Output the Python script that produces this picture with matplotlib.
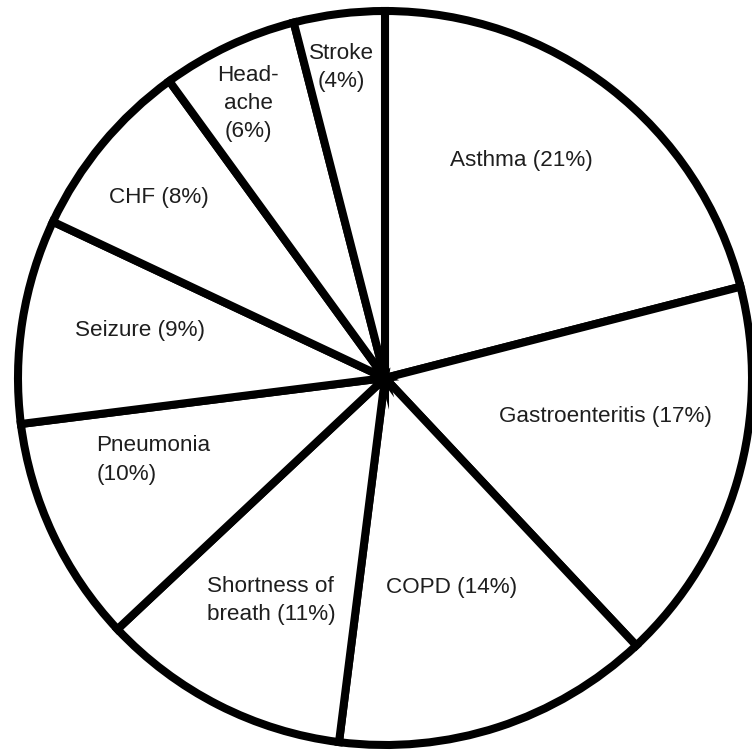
import numpy as np
import matplotlib.pyplot as plt

# ED visit reasons, clockwise from 12 o'clock
categories = ['Asthma', 'Gastroenteritis', 'COPD', 'Shortness of breath', 'Pneumonia',
              'Seizure', 'CHF', 'Headache', 'Stroke']
shares = [21, 17, 14, 11, 10, 9, 8, 6, 4]
label_text = ['Asthma (21%)', 'Gastroenteritis (17%)', 'COPD (14%)', 'Shortness of\nbreath (11%)',
              'Pneumonia\n(10%)', 'Seizure (9%)', 'CHF (8%)', 'Head-\nache\n(6%)', 'Stroke\n(4%)']

# label placement: fraction of radius, angle nudge from wedge middle (deg), alignment
label_r = [0.70, 0.61, 0.60, 0.68, 0.67, 0.68, 0.79, 0.835, 0.855]
label_nudge = [5.8, 6.4, -0.3, 0.0, -5.7, -2.0, 1.0, 1.3, 0.8]
label_align = ['center', 'center', 'center', 'left', 'left', 'center', 'center', 'center', 'center']

fig = plt.figure(figsize=(7.52, 7.5), dpi=100)
ax = fig.add_axes([0, 0, 1, 1])

wedges, _ = ax.pie(shares, startangle=90, counterclock=False, radius=1.0,
                   colors=['white'] * len(shares),
                   wedgeprops=dict(edgecolor='black', linewidth=5.8, joinstyle='miter'))

for w, txt, r, nudge, al in zip(wedges, label_text, label_r, label_nudge, label_align):
    mid = np.deg2rad((w.theta1 + w.theta2) / 2 + nudge)
    ax.text(r * np.cos(mid), r * np.sin(mid), txt, ha='center', va='center',
            multialignment=al, fontsize=16.2, family='Liberation Sans',
            color='#1e1e1e', linespacing=1.45)

# circle centre sits at (385, 378) px, radius ~367 px
ax.set_xlim(-385 / 367, (752 - 385) / 367)
ax.set_ylim(-(750 - 378) / 367, 378 / 367)
ax.set_aspect('equal')
ax.axis('off')

fig.savefig('out.png', dpi=100, facecolor='white')
